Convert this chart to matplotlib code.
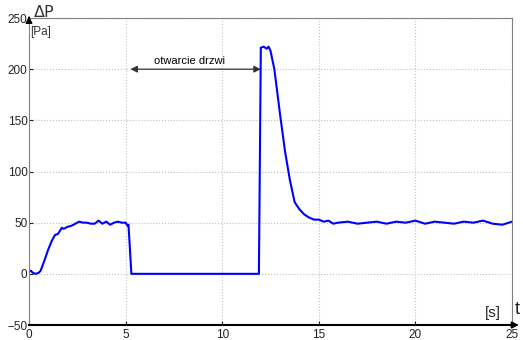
import matplotlib
matplotlib.use("Agg")
import matplotlib.pyplot as plt

plt.rcParams['font.family'] = ['Liberation Sans Narrow', 'Liberation Sans', 'DejaVu Sans']

# pressure difference vs time
t = [0, 0.1, 0.2, 0.35, 0.5, 0.6, 0.8, 1.0, 1.2, 1.35, 1.5, 1.6, 1.7, 1.8,
     2.0, 2.2, 2.4, 2.6, 2.8, 3.0, 3.2, 3.4, 3.6, 3.8, 4.0, 4.2, 4.4, 4.6,
     4.8, 5.0, 5.1, 5.15, 5.3, 11.9, 12.0, 12.15, 12.3, 12.4, 12.5, 12.7,
     13.0, 13.25, 13.5, 13.75, 14.0, 14.25, 14.5, 14.75, 15.0, 15.25, 15.5,
     15.75, 16.0, 16.5, 17.0, 17.5, 18.0, 18.5, 19.0, 19.5, 20.0, 20.5,
     21.0, 21.5, 22.0, 22.5, 23.0, 23.5, 24.0, 24.5, 25.0]
dp = [2, 3, 1, 0, 1, 3, 13, 24, 33, 38, 39, 42, 45, 44,
      46, 47, 49, 51, 50, 50, 49, 49, 52, 49, 51, 48, 50, 51,
      50, 50, 47, 48, 0, 0, 221, 222, 220, 222, 218, 200,
      155, 120, 92, 70, 63, 58, 55, 53, 53, 51, 52,
      49, 50, 51, 49, 50, 51, 49, 51, 50, 52, 49,
      51, 50, 49, 51, 50, 52, 49, 48, 51]

xticks = [0, 5, 10, 15, 20, 25]
yticks = [-50, 0, 50, 100, 150, 200, 250]

fig = plt.figure(figsize=(5.23, 3.40), dpi=100)
ax = fig.add_axes([0.0554, 0.0441, 0.9236, 0.9029])

ax.plot(t, dp, color='#0000ff', lw=1.5)
ax.set_xlim(0, 25)
ax.set_ylim(-50, 250)
ax.set_xticks(xticks)
ax.set_yticks(yticks)
ax.grid(True, color='#c0c0c0', linestyle=':', lw=0.8)
ax.tick_params(labelsize=8.5, length=3, direction='in', colors='#222222')
ax.tick_params(axis='y', pad=1)
ax.tick_params(axis='x', pad=3)
for s in ['top', 'right', 'left']:
    ax.spines[s].set_color('#808080')
    ax.spines[s].set_linewidth(0.8)
ax.spines['bottom'].set_color('black')
ax.spines['bottom'].set_linewidth(1.5)

# axis arrows
ax.annotate('', xy=(1.02, 0), xytext=(0.99, 0), xycoords='axes fraction',
            arrowprops=dict(arrowstyle='-|>', color='black', lw=1.2), annotation_clip=False)
ax.annotate('', xy=(0, 1.015), xytext=(0, 0.99), xycoords='axes fraction',
            arrowprops=dict(arrowstyle='-|>', color='black', lw=1), annotation_clip=False)

# door opening marker
ax.annotate('', xy=(5.25, 200), xytext=(12.0, 200),
            arrowprops=dict(arrowstyle='<|-|>', color='#333333', lw=0.9, shrinkA=0, shrinkB=0))
ax.text(8.3, 203, 'otwarcie drzwi', fontsize=8, ha='center', va='bottom')

ax.text(0.2, 251, r'$\Delta$P', fontsize=11.5, ha='left', va='baseline',
        family=['DejaVu Sans'], color='#333333')
ax.text(0.05, 242, '[Pa]', fontsize=8.5, ha='left', va='top', color='#333333')
ax.text(24.0, -38, '[s]', fontsize=11, ha='center', va='center', color='#222222')
ax.text(25.25, -35, 't', fontsize=13, ha='center', va='center', color='#222222',
        clip_on=False)

fig.savefig('out.png', dpi=100)
